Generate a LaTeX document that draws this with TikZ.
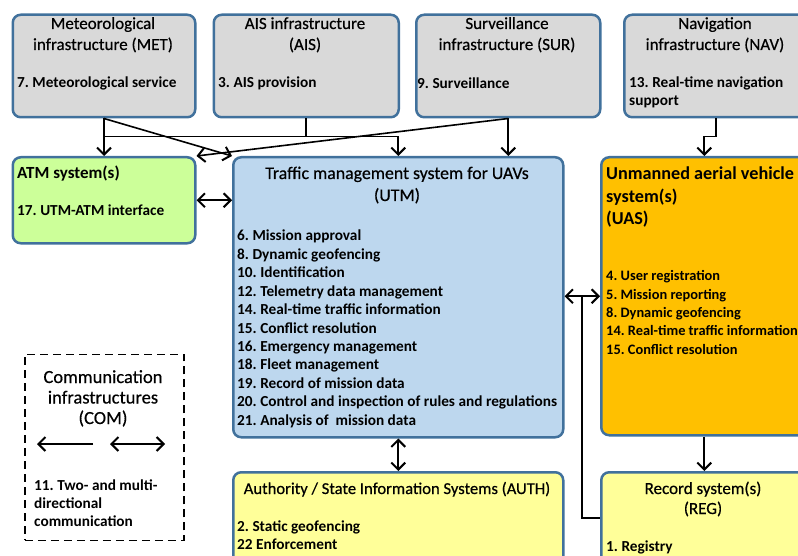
\documentclass[tikz,border=0pt]{standalone}
\usepackage{fontspec}
\setmainfont{Carlito}
\newfontfamily\ttlfont[FakeBold=0.5]{Carlito}
\frenchspacing
\usetikzlibrary{arrows.meta,calc}
\definecolor{bord}{HTML}{41719C}
\definecolor{grayfill}{HTML}{D9D9D9}
\definecolor{greenfill}{HTML}{CCFF99}
\definecolor{bluefill}{HTML}{BDD7EE}
\definecolor{orangefill}{HTML}{FFC000}
\definecolor{yellowfill}{HTML}{FFFF99}
\tikzset{
  box/.style={draw=bord, line width=2.5bp, rounded corners=8bp, inner sep=0, anchor=north west},
  ttl/.style={font=\ttlfont\fontsize{17bp}{20.7bp}\selectfont, inner sep=0, anchor=base},
  ttlb/.style={font=\bfseries\fontsize{17bp}{20.7bp}\selectfont, inner sep=0, anchor=base west},
  uastl/.style={font=\bfseries\fontsize{18.2bp}{22.5bp}\selectfont, inner sep=0, anchor=base west},
  itm/.style={font=\frenchspacing\bfseries\fontsize{15.3bp}{18.3bp}\selectfont, inner sep=0, anchor=base west},
  uitm/.style={itm, font=\frenchspacing\bfseries\fontsize{14.4bp}{18.3bp}\selectfont},
  conn/.style={line width=1.6bp},
  tip/.tip={Straight Barb[length=7bp,width=14bp,line width=2bp]},
  arr/.style={conn, -tip},
  darr/.style={conn, tip-tip},
}
\begin{document}
\begin{tikzpicture}[x=1bp,y=-1bp]
\useasboundingbox (0,0) rectangle (798,556);
\clip (0,0) rectangle (798,556);
% boxes
\node[box, fill=grayfill, minimum width=182.5bp, minimum height=102.5bp] (met) at (11.5,13.5) {};
\node[box, fill=grayfill, minimum width=185bp, minimum height=102.5bp] (ais) at (212.5,13.5) {};
\node[box, fill=grayfill, minimum width=184bp, minimum height=102.5bp] (sur) at (415,13.5) {};
\node[box, fill=grayfill, minimum width=184bp, minimum height=102.5bp] (nav) at (623,13.5) {};
\node[box, fill=greenfill, minimum width=182.5bp, minimum height=86bp] (atm) at (11.5,156) {};
\node[box, fill=bluefill, minimum width=330bp, minimum height=280bp] (utm) at (232,156) {};
\node[box, fill=orangefill, minimum width=206bp, minimum height=278bp] (uas) at (600,156) {};
\node[box, fill=yellowfill, minimum width=330bp, minimum height=94bp] (auth) at (232,471) {};
\node[box, fill=yellowfill, minimum width=206bp, minimum height=92bp] (reg) at (600,471) {};
\node[draw, dashed, dash pattern=on 8bp off 5bp, line width=1.6bp, inner sep=0, anchor=north west,
      minimum width=159bp, minimum height=186bp] (com) at (24,353.5) {};
% texts
\node[ttl] (metT1) at (103,29) {Meteorological};
\node[ttl] (metT2) at (103,50) {infrastructure (MET)};
\node[itm] (metI) at (17,88) {7. Meteorological service};
\node[ttl] (aisT1) at (305,29) {AIS infrastructure};
\node[ttl] (aisT2) at (305,50) {(AIS)};
\node[itm] (aisI) at (218,88) {3. AIS provision};
\node[ttl] (surT1) at (507,29) {Surveillance};
\node[ttl] (surT2) at (507,50) {infrastructure (SUR)};
\node[itm] (surI) at (417,89) {9. Surveillance};
\node[ttl] (navT1) at (715,29) {Navigation};
\node[ttl] (navT2) at (715,50) {infrastructure (NAV)};
\node[itm] (navI1) at (629,88) {13. Real-time navigation};
\node[itm] (navI2) at (629,106) {support};
\node[ttlb] (atmT) at (17,179) {ATM system(s)};
\node[itm] (atmI) at (17,216) {17. UTM-ATM interface};
\node[ttl, font=\ttlfont\fontsize{17.8bp}{21bp}\selectfont] (utmT1) at (397,179) {Traffic management system for UAVs};
\node[ttl, font=\ttlfont\fontsize{17.8bp}{21bp}\selectfont] (utmT2) at (397,201) {(UTM)};
\foreach \t [count=\i] in {6. Mission approval, 8. Dynamic geofencing, 10. Identification,
  12. Telemetry data management, 14. Real-time traffic information, 15. Conflict resolution,
  16. Emergency management, 18. Fleet management, 19. Record of mission data,
  20. Control and inspection of rules and regulations, 21. Analysis of \ mission data}
  \node[itm] (utmI\i) at (237,{241+(\i-1)*18.4}) {\t};
\node[uastl] (uasT1) at (606,180) {Unmanned aerial vehicle};
\node[uastl] (uasT2) at (606,202.5) {system(s)};
\node[uastl] (uasT3) at (606,225) {(UAS)};
\foreach \t [count=\i] in {4. User registration, 5. Mission reporting, 8. Dynamic geofencing,
  14. Real-time traffic information, 15. Conflict resolution}
  \node[uitm] (uasI\i) at (606,{281+(\i-1)*18.3}) {\t};
\node[ttl, font=\ttlfont\fontsize{16.6bp}{20bp}\selectfont] (authT) at (397,494) {Authority / State Information Systems (AUTH)};
\node[itm] (authI1) at (237,531) {2. Static geofencing};
\node[itm] (authI2) at (237,549) {22 Enforcement};
\node[ttl] (regT1) at (703,494) {Record system(s)};
\node[ttl] (regT2) at (703,514) {(REG)};
\node[itm] (regI) at (606,551) {1. Registry};
\node[ttl, font=\ttlfont\fontsize{18.5bp}{21bp}\selectfont] (comT1) at (103,383) {Communication};
\node[ttl, font=\ttlfont\fontsize{18.5bp}{21bp}\selectfont] (comT2) at (103,403.5) {infrastructures};
\node[ttl, font=\ttlfont\fontsize{18.5bp}{21bp}\selectfont] (comT3) at (103,424) {(COM)};
\node[itm] (comI1) at (34,490) {11. Two- and multi-};
\node[itm] (comI2) at (34,508) {directional};
\node[itm] (comI3) at (34,526) {communication};
% connectors
\coordinate (busy) at (0,136.5);
\draw[arr] (met.south) -- (met.south |- atm.north);
\draw[arr] (met.south |- busy) -- (utm.north |- busy) -- (utm.north);
\draw[conn] (ais.south) -- (ais.south |- busy);
\draw[arr] (met.south) -- (utm.north west);
\draw[arr] (sur.south) -- (sur.south |- utm.north);
\draw[arr] (sur.south) -- (atm.north east);
\draw[arr] (nav.south) -- (nav.south |- busy) -| (uas.north);
\draw[darr] (atm.east) -- (atm.east -| utm.west);
\draw[darr] (uas.west) -- (uas.west -| utm.east);
\coordinate (jx) at ($(utm.east)!0.5!(uas.west)$);
\draw[conn] (jx |- uas.west) |- (reg.west);
\draw[darr] (utm.south) -- (utm.south |- auth.north);
\draw[arr] (uas.south) -- (uas.south |- reg.north);
% legend arrows
\coordinate (la1) at (93,444);
\coordinate (la2) at (37,444);
\coordinate (lb1) at (110,444);
\coordinate (lb2) at (165,444);
\draw[arr] (la1) -- (la2);
\draw[darr] (lb1) -- (lb2);
\end{tikzpicture}
\end{document}
